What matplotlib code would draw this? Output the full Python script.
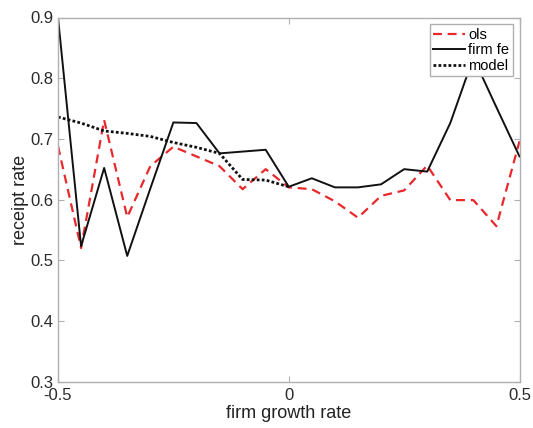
import matplotlib
matplotlib.use("Agg")
import matplotlib.pyplot as plt

plt.rcParams['font.family'] = ['Liberation Sans', 'DejaVu Sans']

# Growth-rate bins
growth = [-0.50, -0.45, -0.40, -0.35, -0.30, -0.25, -0.20, -0.15, -0.10, -0.05, 0.00,
          0.05, 0.10, 0.15, 0.20, 0.25, 0.30, 0.35, 0.40, 0.45, 0.50]

ols = [0.688, 0.520, 0.731, 0.571, 0.655, 0.687, 0.671, 0.655, 0.617, 0.650, 0.620,
       0.617, 0.597, 0.570, 0.606, 0.615, 0.656, 0.599, 0.599, 0.556, 0.696]

firm_fe = [0.900, 0.523, 0.652, 0.507, 0.618, 0.727, 0.726, 0.676, 0.679, 0.682, 0.621,
           0.635, 0.620, 0.620, 0.625, 0.650, 0.646, 0.726, 0.834, 0.752, 0.671]

model_growth = [-0.50, -0.45, -0.40, -0.35, -0.30, -0.25, -0.20, -0.15, -0.10, -0.05, 0.00]
model = [0.736, 0.726, 0.713, 0.709, 0.704, 0.694, 0.686, 0.676, 0.633, 0.632, 0.621]

xticks = [-0.5, 0, 0.5]
xticklabels = ['-0.5', '0', '0.5']
yticks = [0.3, 0.4, 0.5, 0.6, 0.7, 0.8, 0.9]

fig = plt.figure(figsize=(5.33, 4.28), dpi=100)
ax = fig.add_axes([58 / 533, 1 - 381.5 / 428, 461.5 / 533, 364 / 428])

ax.plot(growth, ols, color='#e8282b', linestyle=(0, (4, 2.6)), linewidth=1.6, label='ols')
ax.plot(growth, firm_fe, color='#111111', linestyle='-', linewidth=1.4, label='firm fe')
ax.plot(model_growth, model, color='#111111', linestyle=(0, (1, 0.8)), linewidth=2.0, label='model')

ax.set_xlim(-0.5, 0.5)
ax.set_ylim(0.3, 0.9)
ax.set_xticks(xticks)
ax.set_xticklabels(xticklabels)
ax.set_yticks(yticks)
ax.set_yticklabels([f'{v:.1f}' for v in yticks])

for side in ['left', 'right', 'top', 'bottom']:
    ax.spines[side].set_color('#b0b0b0')
    ax.spines[side].set_linewidth(1.0)
ax.tick_params(direction='in', length=4, color='#b0b0b0', labelsize=12,
               labelcolor='#2a2a2a', top=True, right=True)
ax.tick_params(axis='x', pad=5)
ax.tick_params(axis='y', pad=3)

ax.set_xlabel('firm growth rate', fontsize=13, color='#222222', labelpad=1)
ax.set_ylabel('receipt rate', fontsize=13, color='#222222', labelpad=1)

leg = ax.legend(loc='upper right', fontsize=10.5, frameon=True, fancybox=False,
                handlelength=2.2, handletextpad=0.2, borderpad=0.25,
                labelspacing=0.1, borderaxespad=0.45)
leg.get_frame().set_edgecolor('#b0b0b0')
leg.get_frame().set_linewidth(1.0)
leg.get_frame().set_alpha(1.0)

fig.savefig('out.png', dpi=100)
